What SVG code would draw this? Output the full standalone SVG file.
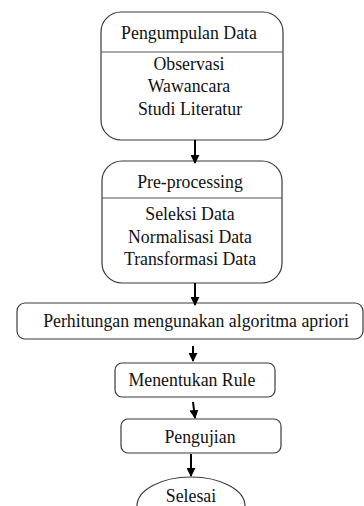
<svg xmlns="http://www.w3.org/2000/svg" width="364" height="506" viewBox="0 0 364 506">
  <defs>
    <marker id="head" viewBox="0 0 10 10" refX="9" refY="5" markerWidth="4.5" markerHeight="4.5" orient="auto" markerUnits="strokeWidth">
      <path d="M0,0 L10,5 L0,10 Z" fill="#000"/>
    </marker>
    <style>
      .box { fill: #fff; stroke: #3a3a3a; stroke-width: 1.2; }
      .div { stroke: #555; stroke-width: 1.2; }
      .lbl { font-family: "Liberation Serif", "Times New Roman", serif; font-size: 17.8px; fill: #111; text-anchor: middle; }
      .arrow { stroke: #000; stroke-width: 2; fill: none; marker-end: url(#head); }
    </style>
  </defs>
  <rect width="364" height="506" fill="#fff"/>

  <g id="pengumpulan-data">
    <rect class="box" x="101" y="12" width="182" height="128" rx="20" ry="20"/>
    <line class="div" x1="101" y1="52" x2="283" y2="52"/>
    <text class="lbl" x="189" y="39">Pengumpulan Data</text>
    <text class="lbl" x="189" y="70">Observasi</text>
    <text class="lbl" x="189" y="92">Wawancara</text>
    <text class="lbl" x="190" y="115">Studi Literatur</text>
  </g>

  <g id="pre-processing">
    <rect class="box" x="102" y="161" width="180" height="122" rx="20" ry="20"/>
    <line class="div" x1="102" y1="198" x2="282" y2="198"/>
    <text class="lbl" x="190" y="188">Pre-processing</text>
    <text class="lbl" x="190" y="220">Seleksi Data</text>
    <text class="lbl" x="190" y="243">Normalisasi Data</text>
    <text class="lbl" x="190" y="265">Transformasi Data</text>
  </g>

  <g id="perhitungan">
    <rect class="box" x="17" y="303" width="346" height="36" rx="8" ry="8"/>
    <text class="lbl" x="196" y="327">Perhitungan mengunakan algoritma apriori</text>
  </g>

  <g id="menentukan-rule">
    <rect class="box" x="115" y="363" width="160" height="34" rx="7" ry="7"/>
    <text class="lbl" x="192" y="386">Menentukan Rule</text>
  </g>

  <g id="pengujian">
    <rect class="box" x="121" y="419" width="160" height="34" rx="7" ry="7"/>
    <text class="lbl" x="200" y="443">Pengujian</text>
  </g>

  <g id="selesai">
    <ellipse class="box" cx="191" cy="506" rx="54" ry="29"/>
    <text class="lbl" x="191" y="502">Selesai</text>
  </g>

  <g id="connectors">
    <line class="arrow" x1="195" y1="140" x2="195" y2="163"/>
    <line class="arrow" x1="195" y1="283" x2="195" y2="305"/>
    <line class="arrow" x1="193" y1="346" x2="193" y2="361"/>
    <line class="arrow" x1="193" y1="402" x2="195" y2="418"/>
    <line class="arrow" x1="191" y1="454" x2="191" y2="476"/>
  </g>
</svg>
